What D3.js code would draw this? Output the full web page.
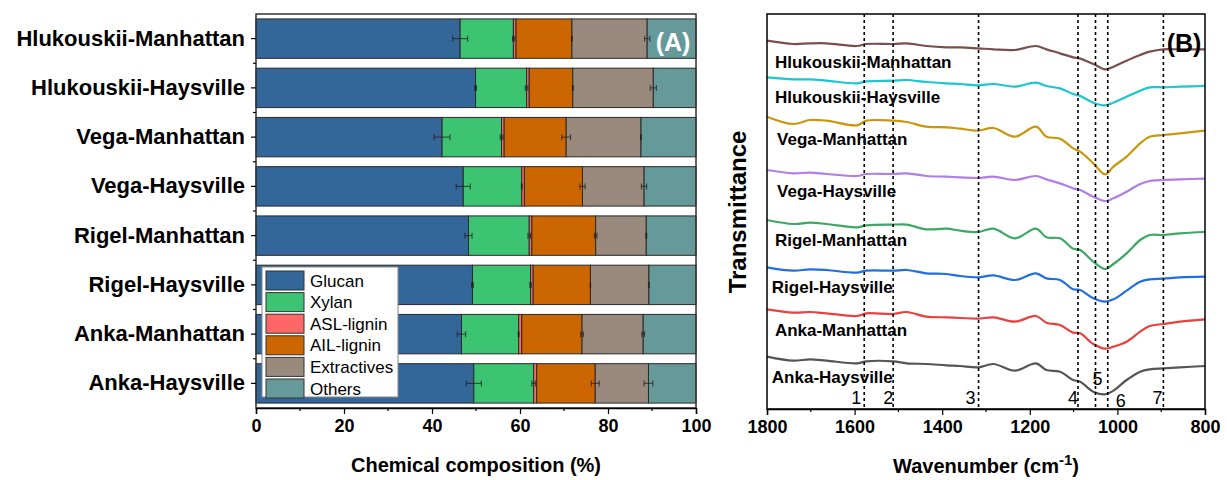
<!DOCTYPE html>
<html>
<head>
<meta charset="utf-8">
<script src="https://cdn.jsdelivr.net/npm/d3@7"></script>
<style>
  html, body { margin: 0; padding: 0; background: #ffffff; }
  svg { display: block; font-family: "Liberation Sans", Arial, sans-serif; }
</style>
</head>
<body>
<svg id="chart" width="1227" height="480"></svg>
<script>
// ---------- Panel A: chemical composition (%) ----------
const samples = ["Hlukouskii-Manhattan", "Hlukouskii-Haysville", "Vega-Manhattan", "Vega-Haysville",
                 "Rigel-Manhattan", "Rigel-Haysville", "Anka-Manhattan", "Anka-Haysville"];
const components = ["Glucan", "Xylan", "ASL-lignin", "AIL-lignin", "Extractives", "Others"];
const glucan      = [46.4, 49.9, 42.3, 47.1, 48.3, 49.2, 46.7, 49.5];
const xylan       = [12.1, 11.6, 13.5, 13.3, 13.8, 13.2, 13.0, 13.6];
const aslLignin   = [0.6, 0.6, 0.6, 0.6, 0.6, 0.6, 0.7, 0.7];
const ailLignin   = [12.7, 9.9, 14.1, 13.2, 14.5, 13.0, 13.7, 13.3];
const extractives = [17.1, 18.3, 17.0, 14.0, 11.5, 13.3, 13.9, 12.1];
const others      = [11.1, 9.7, 12.5, 11.8, 11.3, 10.7, 12.0, 10.8];
// standard deviations (same units)
const glucanSd      = [1.7, 0.2, 1.8, 1.6, 0.8, 0.2, 0.95, 1.7];
const xylanSd       = [0.2, 0.3, 0.3, 0.1, 0.3, 0.15, 0.1, 0.4];
const ailLigninSd   = [0.1, 0.1, 1.0, 0.6, 0.3, 0.05, 0.3, 0.9];
const extractivesSd = [0.6, 0.7, 0.1, 0.6, 0.1, 0.1, 0.3, 1.0];
const compositionTicks = [0, 20, 40, 60, 80, 100];

// ---------- Panel B: FTIR spectra ----------
const wavenumbers = [1800, 1740, 1702, 1664, 1595, 1573, 1512, 1481, 1436, 1390, 1359, 1318, 1283, 1234,
                     1186, 1162, 1131, 1101, 1085, 1055, 1028, 1009, 979, 948, 926, 895, 857, 800];
// stacked transmittance (a.u., offset per sample)
const tHlukouskiiManhattan = [109.3, 108.3, 108.5, 108.5, 107.7, 108.3, 108.3, 108.5, 107.7, 107.3, 107.3, 107.0, 106.7, 106.5,
                              107.7, 106.7, 105.5, 104.3, 103.9, 102.3, 100.7, 101.5, 103.3, 105.0, 106.0, 106.7, 106.7, 106.7];
const tHlukouskiiHaysville = [98.3, 97.7, 97.7, 97.3, 96.5, 97.1, 97.3, 97.5, 96.9, 96.5, 96.3, 95.9, 96.3, 95.5,
                              96.7, 95.7, 95.0, 93.3, 92.7, 90.7, 89.9, 90.7, 92.5, 94.3, 95.3, 95.3, 95.5, 95.7];
const tVegaManhattan       = [86.5, 84.3, 85.5, 85.3, 83.9, 85.3, 85.3, 84.9, 83.5, 83.3, 82.9, 82.3, 83.1, 80.5,
                              83.5, 80.5, 79.9, 77.0, 76.0, 72.5, 69.2, 71.5, 74.5, 78.5, 80.5, 81.0, 81.5, 82.3];
const tVegaHaysville       = [70.5, 69.5, 69.7, 69.3, 68.7, 69.3, 69.3, 69.5, 68.7, 68.5, 68.3, 68.1, 68.5, 67.5,
                              68.7, 67.7, 66.5, 65.0, 64.5, 62.5, 61.2, 62.0, 64.0, 66.3, 67.2, 67.5, 67.7, 67.9];
const tRigelManhattan      = [55.5, 54.3, 54.7, 54.3, 53.3, 53.9, 54.1, 54.1, 52.7, 52.9, 52.3, 51.9, 52.9, 50.0,
                              52.9, 50.3, 50.0, 46.9, 46.5, 43.0, 40.8, 42.3, 45.5, 49.5, 51.0, 51.0, 51.5, 51.9];
const tRigelHaysville      = [41.3, 40.3, 40.7, 40.5, 39.7, 40.3, 40.3, 40.5, 39.5, 39.3, 38.7, 38.3, 38.9, 37.5,
                              39.5, 38.0, 37.5, 34.7, 34.5, 32.0, 31.0, 31.7, 34.3, 37.0, 37.7, 37.9, 38.3, 38.5];
const tAnkaManhattan       = [28.7, 27.7, 27.9, 27.5, 26.7, 27.5, 27.3, 27.9, 26.5, 26.3, 26.1, 25.9, 26.3, 25.0,
                              26.7, 24.7, 24.0, 21.7, 21.5, 18.3, 16.9, 17.5, 19.0, 22.0, 23.7, 24.3, 25.0, 25.7];
const tAnkaHaysville       = [14.5, 13.3, 13.7, 13.3, 12.5, 13.1, 13.1, 12.5, 12.3, 11.9, 11.7, 11.3, 12.3, 10.3,
                              12.5, 10.5, 10.0, 7.5, 7.0, 4.0, 3.2, 4.3, 7.5, 10.0, 10.7, 11.0, 11.3, 11.7];
const peakWavenumbers = [1578, 1512, 1317, 1090, 1050, 1022, 895];
const peakLabels = ["1", "2", "3", "4", "5", "6", "7"];
const wavenumberTicks = [1800, 1600, 1400, 1200, 1000, 800];

// ---------- styling ----------
const componentColors = ["#336699", "#3cc472", "#ff6666", "#cc6600", "#9a897d", "#669999"];
const spectrumColors = ["#7a4e4e", "#19c6d1", "#c9960c", "#b07ee6", "#3da864", "#1f6fe3", "#e8413f", "#555555"];

const svg = d3.select("#chart");
svg.append("rect").attr("width", 1227).attr("height", 480).attr("fill", "#fff");

// ===================== Panel A =====================
const A = { left: 256, right: 696, top: 14, bottom: 408 };
const xA = d3.scaleLinear().domain([0, 100]).range([A.left, A.right]);
const yA = d3.scaleBand().domain(samples).range([A.top, A.bottom]).paddingInner(0.2).paddingOuter(0.1);

const compTable = samples.map((s, i) => ({
  sample: s,
  "Glucan": glucan[i], "Xylan": xylan[i], "ASL-lignin": aslLignin[i],
  "AIL-lignin": ailLignin[i], "Extractives": extractives[i], "Others": others[i]
}));
const stacked = d3.stack().keys(components)(compTable);

const gA = svg.append("g");
gA.selectAll("g.layer").data(stacked).join("g")
  .attr("class", "layer")
  .attr("fill", (d, i) => componentColors[i])
  .selectAll("rect").data(d => d).join("rect")
  .attr("x", d => xA(d[0]))
  .attr("width", d => xA(d[1]) - xA(d[0]))
  .attr("y", d => yA(d.data.sample))
  .attr("height", yA.bandwidth())
  .attr("stroke", "#2a2a2a").attr("stroke-width", 1);

// error bars at the end of each segment
const sdSets = [[0, glucanSd], [1, xylanSd], [3, ailLigninSd], [4, extractivesSd]];
const errData = [];
sdSets.forEach(([k, sd]) => {
  stacked[k].forEach((d, i) => errData.push({ sample: samples[i], end: d[1], sd: sd[i] }));
});
const errG = gA.append("g").attr("stroke", "#222").attr("stroke-opacity", 0.75).attr("stroke-width", 1.1);
errData.forEach(e => {
  const cy = yA(e.sample) + yA.bandwidth() / 2;
  const x0 = xA(e.end - e.sd), x1 = xA(e.end + e.sd);
  errG.append("line").attr("x1", x0).attr("x2", x1).attr("y1", cy).attr("y2", cy);
  errG.append("line").attr("x1", x0).attr("x2", x0).attr("y1", cy - 3).attr("y2", cy + 3);
  errG.append("line").attr("x1", x1).attr("x2", x1).attr("y1", cy - 3).attr("y2", cy + 3);
});

// frame
gA.append("rect").attr("x", A.left).attr("y", A.top).attr("width", A.right - A.left).attr("height", A.bottom - A.top)
  .attr("fill", "none").attr("stroke", "#333").attr("stroke-width", 1.5);

// y axis (category labels)
const yAxisA = gA.append("g").attr("transform", `translate(${A.left},0)`)
  .call(d3.axisLeft(yA).tickSize(5).tickPadding(6));
yAxisA.select(".domain").remove();
yAxisA.selectAll("line").attr("stroke", "#000").attr("stroke-width", 1.2);
yAxisA.selectAll("text").attr("font-size", 22).attr("font-weight", "bold").attr("fill", "#000");
// minor ticks between bars
const bandEdges = samples.slice(1).map(s => yA(s) - yA.step() * yA.paddingInner() / 2);
gA.selectAll("line.minorY").data(bandEdges).join("line")
  .attr("x1", A.left - 3).attr("x2", A.left).attr("y1", d => d).attr("y2", d => d)
  .attr("stroke", "#000").attr("stroke-width", 1.2);

// x axis
const xAxisA = gA.append("g").attr("transform", `translate(0,${A.bottom})`)
  .call(d3.axisBottom(xA).tickValues(compositionTicks).tickSize(6).tickPadding(5));
xAxisA.select(".domain").attr("stroke", "#000").attr("stroke-width", 1.5);
xAxisA.selectAll("line").attr("stroke", "#000").attr("stroke-width", 1.2);
xAxisA.selectAll("text").attr("font-size", 18).attr("font-weight", "bold").attr("fill", "#000");
gA.selectAll("line.minorX").data(d3.range(10, 100, 20)).join("line")
  .attr("x1", d => xA(d)).attr("x2", d => xA(d)).attr("y1", A.bottom).attr("y2", A.bottom + 3)
  .attr("stroke", "#000").attr("stroke-width", 1.2);

gA.append("text").attr("x", (A.left + A.right) / 2).attr("y", 472).attr("text-anchor", "middle")
  .attr("font-size", 20).attr("font-weight", "bold").text("Chemical composition (%)");

gA.append("text").attr("x", 673).attr("y", 51).attr("text-anchor", "middle")
  .attr("font-size", 25).attr("font-weight", "bold").attr("fill", "#fff").text("(A)");

// legend
const leg = gA.append("g").attr("transform", "translate(262,267)");
leg.append("rect").attr("width", 136).attr("height", 130).attr("fill", "#fff").attr("stroke", "#888").attr("stroke-width", 1);
components.forEach((c, i) => {
  const row = leg.append("g").attr("transform", `translate(4,${4 + i * 21.6})`);
  row.append("rect").attr("width", 38).attr("height", 19).attr("fill", componentColors[i])
    .attr("stroke", "#333").attr("stroke-width", 1);
  row.append("text").attr("x", 44).attr("y", 15.5).attr("font-size", 17).attr("fill", "#000").text(c);
});

// ===================== Panel B =====================
const B = { left: 767, right: 1205, top: 14, bottom: 409 };
const xB = d3.scaleLinear().domain([1800, 800]).range([B.left, B.right]);
const yB = d3.scaleLinear().domain([0, 116.7]).range([405, 16]);

const spectra = [
  { name: "Hlukouskii-Manhattan", t: tHlukouskiiManhattan },
  { name: "Hlukouskii-Haysville", t: tHlukouskiiHaysville },
  { name: "Vega-Manhattan", t: tVegaManhattan },
  { name: "Vega-Haysville", t: tVegaHaysville },
  { name: "Rigel-Manhattan", t: tRigelManhattan },
  { name: "Rigel-Haysville", t: tRigelHaysville },
  { name: "Anka-Manhattan", t: tAnkaManhattan },
  { name: "Anka-Haysville", t: tAnkaHaysville }
];
// label anchor (wavenumber, a.u.) for each spectrum name
const labelAnchors = [[1782, 101.1], [1782, 90.6], [1777, 78.0], [1777, 62.4],
                      [1782, 47.7], [1789, 33.6], [1782, 20.7], [1789, 6.6]];

const gB = svg.append("g");
const line = d3.line().x((d, i) => xB(wavenumbers[i])).y(d => yB(d)).curve(d3.curveCatmullRom.alpha(0.5));

gB.selectAll("path.spec").data(spectra).join("path")
  .attr("class", "spec")
  .attr("d", d => line(d.t))
  .attr("fill", "none")
  .attr("stroke", (d, i) => spectrumColors[i])
  .attr("stroke-width", 2.2)
  .attr("stroke-linejoin", "round");

// peak markers
gB.selectAll("line.peak").data(peakWavenumbers).join("line")
  .attr("class", "peak")
  .attr("x1", d => xB(d)).attr("x2", d => xB(d)).attr("y1", B.top).attr("y2", B.bottom)
  .attr("stroke", "#000").attr("stroke-width", 1.6).attr("stroke-dasharray", "3,3");

const peakLabelShift = [[-8, 0], [-5, 0], [-8, 0], [-5, 0], [2, -19], [13, 3], [-6, 0]];
gB.selectAll("text.peakLbl").data(peakWavenumbers).join("text")
  .attr("class", "peakLbl")
  .attr("x", (d, i) => xB(d) + peakLabelShift[i][0])
  .attr("y", (d, i) => 404 + peakLabelShift[i][1])
  .attr("text-anchor", "middle").attr("font-size", 18).attr("fill", "#000")
  .text((d, i) => peakLabels[i]);

gB.selectAll("text.specLbl").data(spectra).join("text")
  .attr("class", "specLbl")
  .attr("x", (d, i) => xB(labelAnchors[i][0]))
  .attr("y", (d, i) => yB(labelAnchors[i][1]))
  .attr("font-size", 17).attr("font-weight", "bold").attr("fill", "#000")
  .text(d => d.name);

gB.append("rect").attr("x", B.left).attr("y", B.top).attr("width", B.right - B.left).attr("height", B.bottom - B.top)
  .attr("fill", "none").attr("stroke", "#000").attr("stroke-width", 1.5);

const xAxisB = gB.append("g").attr("transform", `translate(0,${B.bottom})`)
  .call(d3.axisBottom(xB).tickValues(wavenumberTicks).tickFormat(d3.format("d")).tickSize(6).tickPadding(5));
xAxisB.select(".domain").attr("stroke", "#000").attr("stroke-width", 1.5);
xAxisB.selectAll("line").attr("stroke", "#000").attr("stroke-width", 1.2);
xAxisB.selectAll("text").attr("font-size", 18).attr("font-weight", "bold").attr("fill", "#000");
gB.selectAll("line.minorXB").data(d3.range(1700, 800, -200)).join("line")
  .attr("x1", d => xB(d)).attr("x2", d => xB(d)).attr("y1", B.bottom).attr("y2", B.bottom + 3)
  .attr("stroke", "#000").attr("stroke-width", 1.2);

const titleB = gB.append("text").attr("x", (B.left + B.right) / 2).attr("y", 473).attr("text-anchor", "middle")
  .attr("font-size", 20).attr("font-weight", "bold");
titleB.append("tspan").text("Wavenumber (cm");
titleB.append("tspan").attr("dy", -8).attr("font-size", 15).text("-1");
titleB.append("tspan").attr("dy", 8).text(")");

gB.append("text").attr("transform", "translate(746,212) rotate(-90)").attr("text-anchor", "middle")
  .attr("font-size", 24).attr("font-weight", "bold").text("Transmittance");

gB.append("text").attr("x", 1184).attr("y", 52).attr("text-anchor", "middle")
  .attr("font-size", 25).attr("font-weight", "bold").attr("fill", "#000").text("(B)");
</script>
</body>
</html>
